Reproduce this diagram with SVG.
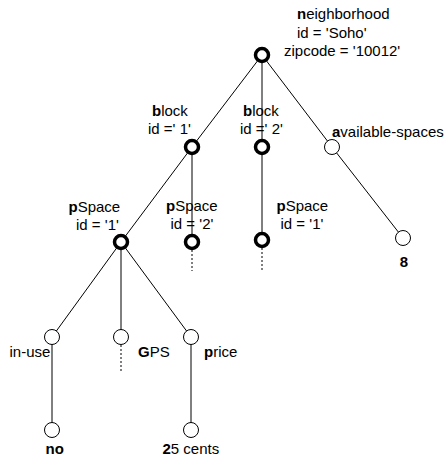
<svg xmlns="http://www.w3.org/2000/svg" width="446" height="460" viewBox="0 0 446 460">
  <style>
    text { font-family: "Liberation Sans", Arial, sans-serif; font-size: 15px; fill: #000; }
    .b { font-weight: bold; }
    .edge { stroke: #000; stroke-width: 1; fill: none; }
    .dot { stroke: #000; stroke-width: 1; stroke-dasharray: 2 2; fill: none; }
    .el { fill: #fff; stroke: #000; stroke-width: 3.5; }
    .val { fill: #fff; stroke: #000; stroke-width: 1; }
  </style>
  <rect width="446" height="460" fill="#fff"/>

  <g id="connectors">
    <line class="edge" x1="262" y1="55" x2="192" y2="147"/>
    <line class="edge" x1="262" y1="55" x2="262" y2="147"/>
    <line class="edge" x1="262" y1="55" x2="332" y2="147"/>
    <line class="edge" x1="192" y1="147" x2="121" y2="242"/>
    <line class="edge" x1="192" y1="147" x2="192" y2="242"/>
    <line class="edge" x1="262" y1="147" x2="262" y2="240"/>
    <line class="edge" x1="332" y1="147" x2="403" y2="238"/>
    <line class="edge" x1="121" y1="242" x2="52" y2="337"/>
    <line class="edge" x1="121" y1="242" x2="121" y2="337"/>
    <line class="edge" x1="121" y1="242" x2="191" y2="337"/>
    <line class="edge" x1="52" y1="337" x2="52" y2="430"/>
    <line class="edge" x1="191" y1="337" x2="191" y2="430"/>
    <line class="dot" x1="192" y1="250" x2="192" y2="271"/>
    <line class="dot" x1="262" y1="248" x2="262" y2="272"/>
    <line class="dot" x1="121" y1="345" x2="121" y2="372"/>
  </g>

  <g id="neighborhood">
    <circle class="el" cx="262" cy="55" r="6.5"/>
    <text x="297" y="19"><tspan class="b">n</tspan>eighborhood</text>
    <text x="297" y="37.5">id = 'Soho'</text>
    <text x="284" y="56">zipcode = '10012'</text>
  </g>

  <g id="block1">
    <circle class="el" cx="192" cy="147" r="6.5"/>
    <text x="152" y="116"><tspan class="b">b</tspan>lock</text>
    <text x="148" y="134">id =' 1'</text>
  </g>

  <g id="block2">
    <circle class="el" cx="262" cy="147" r="6.5"/>
    <text x="243" y="116"><tspan class="b">b</tspan>lock</text>
    <text x="240" y="134">id =' 2'</text>
  </g>

  <g id="available-spaces">
    <circle class="val" cx="332" cy="147" r="7.5"/>
    <text x="332" y="137"><tspan class="b">a</tspan>vailable-spaces</text>
  </g>

  <g id="available-value">
    <circle class="val" cx="403" cy="238" r="7.5"/>
    <text x="404" y="267" text-anchor="middle" class="b">8</text>
  </g>

  <g id="pspace1">
    <circle class="el" cx="121" cy="242" r="6.5"/>
    <text x="68.5" y="211.5"><tspan class="b">p</tspan>Space</text>
    <text x="76" y="229.5">id = '1'</text>
  </g>

  <g id="pspace2">
    <circle class="el" cx="192" cy="242" r="6.5"/>
    <text x="166" y="211"><tspan class="b">p</tspan>Space</text>
    <text x="170.5" y="228.5">id = '2'</text>
  </g>

  <g id="pspace3">
    <circle class="el" cx="262" cy="240" r="6.5"/>
    <text x="276.5" y="211"><tspan class="b">p</tspan>Space</text>
    <text x="280.5" y="228.5">id = '1'</text>
  </g>

  <g id="in-use">
    <circle class="val" cx="52" cy="337" r="7.5"/>
    <text x="9.5" y="357">in-use</text>
  </g>

  <g id="gps">
    <circle class="val" cx="121" cy="337" r="7.5"/>
    <text x="138" y="357"><tspan class="b">G</tspan>PS</text>
  </g>

  <g id="price">
    <circle class="val" cx="191" cy="337" r="7.5"/>
    <text x="204" y="357"><tspan class="b">p</tspan>rice</text>
  </g>

  <g id="in-use-value">
    <circle class="val" cx="52" cy="430" r="7.5"/>
    <text x="45.5" y="453.5" class="b">no</text>
  </g>

  <g id="price-value">
    <circle class="val" cx="191" cy="430" r="7.5"/>
    <text x="162.5" y="453.5"><tspan class="b">2</tspan>5 cents</text>
  </g>
</svg>
